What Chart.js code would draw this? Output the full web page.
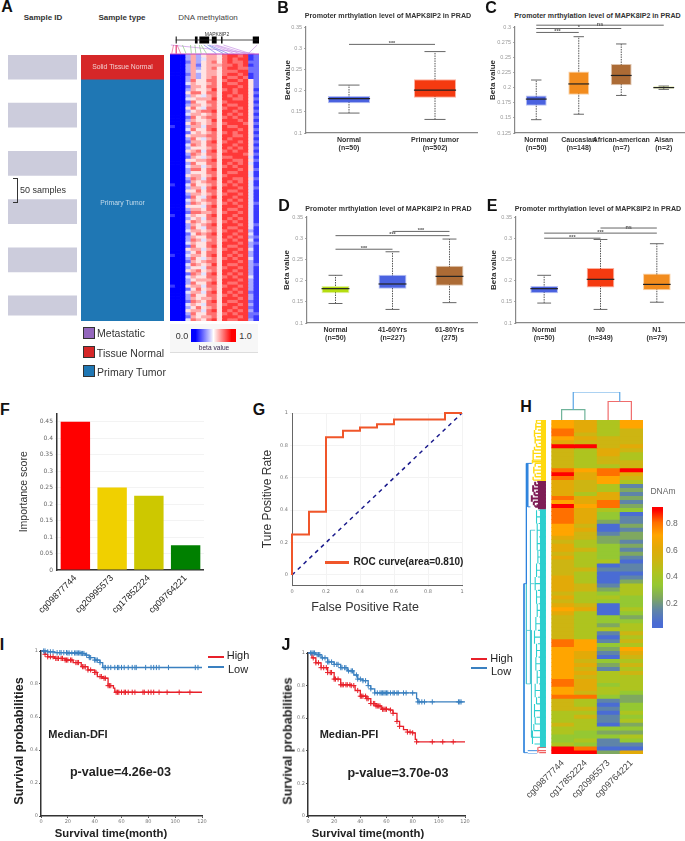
<!DOCTYPE html>
<html>
<head>
<meta charset="utf-8">
<title>MAPK8IP2 methylation</title>
<script src="https://cdn.jsdelivr.net/npm/chart.js@4"></script>
<style>
html,body{margin:0;padding:0;background:#fff;width:685px;height:841px;overflow:hidden}
canvas{position:absolute;display:block}
.t{position:absolute;white-space:nowrap;font-family:"Liberation Sans",Arial,sans-serif;transform:translate(-50%,-50%);line-height:1}
.l{position:absolute}
</style>
</head>
<body>
<script>
/* ---------- Panel A ---------- */
const sampleIdBlocks = [[0,50],[100,150],[200,250],[300,350],[400,450],[500,540]];
const sampleTypeSpans = [[0,50],[50,552]];
const sampleTypeColors = ['#d62728','#1f77b4'];
const probeNames = ['p1','p2','p3','p4','p5','p6','p7','p8','p9','p10','p11','p12','p13','p14','p15','p16','p17'];
/* beta value of each probe, one row per group of samples, digits 0..9 = beta 0..1 */
const methylRows = [
'000 3635 665 78878 12','000 3634 665 78788 12','000 2635 675 78778 22','000 3625 666 77878 12','000 3635 675 78877 22','000 3645 665 77788 22','000 2635 665 78878 12','000 3635 675 87787 12',
'000 3755 775 78878 52','000 4655 675 87788 52','000 2665 775 88878 52','000 3655 685 78788 51','000 5775 775 88788 52','000 3654 675 87878 51',
'000 4566 685 88778 52','000 2755 775 78888 51','000 3665 675 87788 52','000 5754 775 78878 51','000 3567 785 88788 52','000 4665 675 87878 51',
'000 2756 775 78788 52','000 3655 685 88878 51','000 5765 675 78887 52','100 3664 775 87788 51','000 4755 785 88878 52','000 2565 675 78788 51',
'000 5666 775 88778 52','000 3754 675 87888 51','000 2665 785 78878 52','000 4765 775 88788 51','000 3555 675 87878 52','000 5674 785 78788 51',
'000 3765 775 88887 52','000 2654 675 77888 41','000 5566 785 88778 52','000 3755 775 87878 41','000 4664 675 78788 51','000 3775 785 88878 52',
'000 3555 775 87788 41','000 5665 675 78888 41','000 3764 785 88778 52','000 2656 775 87878 41','100 4755 675 78788 41','000 3664 785 88878 42',
'000 5575 775 87788 41','000 3665 675 78878 41','000 2754 785 88788 41','000 4656 775 87878 41','000 3765 675 78788 42','000 5554 785 88878 41',
'000 3665 775 87788 41','000 2776 675 78878 41','100 4655 785 88788 41','000 3564 775 87878 41','000 5765 675 78788 41','000 3656 785 88878 42',
'000 3754 775 87788 41','000 4665 675 78878 31','000 2576 785 88788 41','000 3655 775 87878 32','000 3764 675 78788 41','000 4655 775 88878 32',
'000 2755 785 87788 31','000 5664 675 78878 41','000 3575 775 88788 31','100 4665 785 87878 31','000 3754 675 78788 41','000 2656 775 88878 31',
'000 4765 685 87788 32','000 3554 775 78878 31','000 5675 675 88788 31','000 2764 785 87878 31','000 4655 775 78788 41','000 3566 675 88878 31',
'000 3755 785 87788 31','100 5664 775 78878 31','000 2575 675 88788 31','000 4664 785 87878 21','000 3755 775 78788 31','000 3656 675 88878 31',
'000 2765 785 87788 21','000 4654 775 78878 31','000 3575 675 88788 21','000 5664 785 87878 31','000 3755 775 78788 22','000 2656 675 88878 21',
'000 4765 785 87788 31'];
const geneBackbone = [6.4,99];
const geneExons = [[6.4,7.5],[28,31],[33,44],[47,52.4],[57.4,59],[93,100]];
const probeLinksPink = [[4,2],[7,7],[8,12]];
const probeLinksGreen = [[14,18],[23,24],[28,29],[33,35],[35,41]];
const probeLinksBlue = [[38,52],[42,60],[44,65]];
const probeLinksPurple = [[47,72],[50,78],[52,85],[60,90],[98,88],[1,95]];

/* ---------- Panels B-E box plots ---------- */
const bCategories = [['Normal','(n=50)'],['Primary tumor','(n=502)']];
const bLow=[.147,.132], bQ1=[.17,.183], bMedian=[.181,.201], bQ3=[.187,.227], bHigh=[.213,.292];
const bColors=['#4a62e0','#f53a10'];
const bSig=[[0,1,.309,'***']];

const cCategories = [['Normal','(n=50)'],['Caucasian','(n=148)'],['African-american','(n=7)'],['Aisan','(n=2)']];
const cLow=[.147,.156,.187,.197], cQ1=[.17,.188,.204,.198], cMedian=[.181,.206,.22,.2], cQ3=[.187,.2265,.239,.202], cHigh=[.2125,.284,.272,.2025];
const cColors=['#4a62e0','#f28c1e','#ac6b35','#b6cc2c'];
const cSig=[[0,1,.291,'***'],[0,2,.2975,'*'],[0,3,.303,'ns']];

const dCategories = [['Normal','(n=50)'],['41-60Yrs','(n=227)'],['61-80Yrs','(275)']];
const dLow=[.146,.132,.148], dQ1=[.17,.181,.188], dMedian=[.181,.192,.21], dQ3=[.187,.214,.235], dHigh=[.2125,.268,.298];
const dColors=['#b5dd10','#4a62e0','#ac6b35'];
const dSig=[[0,1,.274,'***'],[0,2,.306,'***'],[1,2,.316,'***']];

const eCategories = [['Normal','(n=50)'],['N0','(n=349)'],['N1','(n=79)']];
const eLow=[.147,.132,.149], eQ1=[.17,.184,.177], eMedian=[.181,.203,.191], eQ3=[.187,.23,.217], eHigh=[.2125,.297,.287];
const eColors=['#4a62e0','#f53a10','#f28c1e'];
const eSig=[[0,1,.3,'***'],[0,2,.312,'***'],[1,2,.324,'ns']];

/* ---------- Panel F ---------- */
const fProbes=['cg09877744','cg20995573','cg17852224','cg09764221'];
const fScores=[.45,.25,.225,.075];
const fColors=['#ff0000','#f0d000','#cdc800','#008000'];

/* ---------- Panel G ---------- */
const rocFpr=[0,0,.1,.1,.2,.2,.3,.3,.4,.4,.5,.5,.6,.6,.9,.9,1];
const rocTpr=[0,.25,.25,.39,.39,.85,.85,.89,.89,.91,.91,.93,.93,.96,.96,1,1];

/* ---------- Panel H ---------- */
const hProbes=['cg09877744','cg17852224','cg20995573','cg09764221'];
const hRows=['7647','7647','8645','8545','7655','6555','9956','5465','5464','5454','5455','5445','8789','9686','8675','6574',
'6541','6542','6461','8662','7681','9782','8643','8630','8631','8621','7502','7601','7512','6522','5421','6432','6531','5432','6431','5440',
'5401','5511','5400','6401','6402','6514','6524','5434','6443','5433','6503','7604','6403','5432','5433','5424','5444','5415','5404',
'8715','8734','7727','7616','7605','7534','7625','7514','7645','7544','8644','8634','7644','7543','8832',
'5412','5403','5513','4404','4513','4414','5402','4433','4322','3334','3413','4311','9800','9926'];
const hScale=[[.05,'#4a6cd4'],[.145,'#5f84a8'],[.24,'#7fa860'],[.335,'#95c832'],[.43,'#aec41f'],[.525,'#cdb512'],[.62,'#e2aa08'],[.715,'#ffa500'],[.81,'#ff7000'],[.905,'#ff0000']];
const hColorbarRange=[.013,.927];
const hColorbarTicks=[.2,.4,.6,.8];
/* top dendrogram: column position, merge height */
const hTopGreen=[[.5,0],[.5,.37],[1.5,.37],[1.5,0]];
const hTopRed=[[2.5,0],[2.5,.66],[3.5,.66],[3.5,0]];
const hTopBlue=[[1,.37],[1,1],[3,1],[3,.66]];
/* left dendrogram: [leaf position, merge depth] */
const leavesYellow=[[0,40],[1,42],[2,38],[3,44],[4,34],[5,42],[6,36],[7,46],[8,40],[9,34],[10,30],[11,38],[12,30],[12.5,28],[13,36],[14,44],[15,32],[16,40],[17,36],[18,30]];
const leavesPurple=[[18.5,42],[19.5,36],[20.5,30],[21.5,38],[22.5,34],[23.5,26],[24.5,32],[25.5,40],[26,36]];
const leavesTeal=[[27,46],[29,40],[31,46],[33,42],[35,48],[37,42],[39,46],[41,44],[43,48],[45,40],[47,44],[49,36],[51,44],[53,40],[55,46],[57,42],[59,48],[61,38],[63,44],[65,34],[67,44],[69,40],[71,46],[73,38],[75,46],[77,42],[79,48],[81,36],[83,44],[85,40],[87,34],[89,40],[91,36],[93,32],[95,28],[97,34]];
const leavesRed=[[98,46],[99,44],[99.6,48]];
const treeSkeleton=[[3,49,3,99.6],[3,49,10,49],[10,13,10,49],[10,13,14,13],[14,13,14,26],[14,13,26,13],[14,26,22,26],[3,99.6,14,99.6],[14,99,42,99],[14,100,42,100]];
const treeTealSkeleton=[[10,49,10,79],[10,63,25,63],[25,63,25,95],[10,79,22,79],[22,49,22,79],[22,49,34,49],[25,95,32,95],[22,33,22,49],[22,33,36,33]];

/* ---------- Panel I ---------- */
const iHighCurve=[[0,1],[3,.98],[5,.965],[10,.955],[18,.945],[24,.93],[30,.905],[35,.885],[40,.87],[42,.845],[46,.835],[50,.79],[54,.775],[55,.75],[120,.75]];
const iLowCurve=[[0,1],[5,.995],[10,.99],[20,.988],[30,.985],[33,.975],[36,.96],[40,.945],[44,.93],[46,.9],[120,.9]];
const iHighCensor=[3,5,7,9,11,12,13,15,16,18,19,20,22,23,26,27,28,31,32,33,35,37,40,41,44,45,47,48,50,51,52,56,57,58,60,62,63,65,68,70,76,77,80,82,84,88,94,103,111];
const iLowCensor=[2,3,5,7,9,12,14,15,17,19,20,21,23,25,26,27,28,29,30,31,32,34,36,37,40,41,42,44,47,48,50,52,55,57,58,60,62,65,68,70,71,78,82,84,86,88,95,115,117];

/* ---------- Panel J ---------- */
const jHighCurve=[[0,1],[3,.97],[6,.94],[10,.91],[15,.88],[20,.84],[25,.805],[33,.8],[36,.77],[40,.735],[45,.72],[48,.69],[52,.675],[56,.655],[63,.65],[65,.63],[68,.58],[70,.55],[73,.53],[76,.515],[80,.51],[82,.47],[83,.455],[120,.455]];
const jLowCurve=[[0,1],[6,.99],[10,.97],[15,.945],[20,.93],[25,.91],[30,.89],[35,.865],[38,.84],[42,.83],[46,.8],[48,.78],[51,.755],[82,.755],[83,.72],[84,.7],[120,.7]];
const jHighCensor=[4,6,8,10,12,14,15,17,18,20,21,23,25,26,27,29,30,32,33,35,38,40,41,42,44,45,46,48,50,51,52,53,54,55,57,58,59,60,63,65,68,70,76,78,80,83,95,103,111];
const jLowCensor=[2,3,4,5,7,8,9,11,13,15,16,18,20,22,23,25,26,28,29,31,33,34,37,38,40,42,44,46,48,51,53,55,56,57,58,59,60,61,63,65,66,68,69,73,75,80,84,85,87,89,95,115,116,117];

/* ---------- helpers ---------- */
const SANS='"Liberation Sans",Arial,sans-serif';
Chart.defaults.font.family=SANS;
Chart.defaults.animation=false;
Chart.defaults.responsive=false;
Chart.defaults.devicePixelRatio=1;
Chart.defaults.plugins.legend.display=false;
Chart.defaults.plugins.tooltip.enabled=false;

function text(s,x,y,size,o){
  o=o||{};
  const d=document.createElement('div');d.className='t';d.textContent=s;
  d.style.left=x+'px';d.style.top=y+'px';d.style.fontSize=size+'px';
  d.style.color=o.color||'#222';d.style.fontWeight=o.bold?'bold':'normal';
  if(o.rotate)d.style.transform=`translate(-50%,-50%) rotate(${o.rotate}deg)`;
  document.body.appendChild(d);
}
function rect(x,y,w,h,css){
  const d=document.createElement('div');d.className='l';
  d.style.cssText+=`left:${x}px;top:${y}px;width:${w}px;height:${h}px;`+css;
  document.body.appendChild(d);
}
/* plot area x0..x1 / y0..y1 in page pixels; margins reserve room for axes */
function chartAt(x0,y0,x1,y1,m,config){
  const left=m.left||0,right=m.right||0,top=m.top||0,bottom=m.bottom||0,axisRight=m.axisRight||0;
  const c=document.createElement('canvas');
  c.width=x1-x0+left+right+axisRight;c.height=y1-y0+top+bottom;
  c.style.left=(x0-left)+'px';c.style.top=(y0-top)+'px';
  document.body.appendChild(c);
  const o=config.options=config.options||{};
  o.layout={autoPadding:false,padding:{top:top,right:right,left:0,bottom:0}};
  o.scales=o.scales||{};
  if(o.scales.x&&o.scales.x.display!==false)o.scales.x.afterFit=s=>{s.height=bottom;};
  if(o.scales.y&&o.scales.y.display!==false)o.scales.y.afterFit=s=>{s.width=axisRight||left;};
  return new Chart(c.getContext('2d'),config);
}
const hidden={display:false};
const plainTick=v=>String(+(+v).toFixed(3));
function segs(list){const out=[];list.forEach(a=>{out.push({x:a[0],y:a[1]},{x:a[2],y:a[3]},{x:NaN,y:NaN});});return out;}
function lineSet(data,color,width,extra){return Object.assign({type:'line',data:data,borderColor:color,borderWidth:width,pointRadius:0,fill:false,clip:false,tension:0,order:1},extra||{});}

/* ---------- box plot built from bars, lines and line-shaped points ---------- */
function boxPlot(x0,y0,x1,y1,left,cats,low,q1,med,q3,high,colors,sig,yMin,yMax,step){
  const boxFrac=.49, band=(x1-x0)/cats.length, boxW=band*boxFrac;
  const ds=[];
  cats.forEach((c,i)=>{
    ds.push({type:'line',data:[{x:c,y:med[i]}],showLine:false,pointStyle:'line',pointRadius:boxW/2,pointBorderWidth:1.2,pointBorderColor:'#222',clip:false,order:1});
    ds.push({type:'line',data:[{x:c,y:low[i]},{x:c,y:high[i]}],showLine:false,pointStyle:'line',pointRadius:boxW/4,pointBorderWidth:1,pointBorderColor:'#666',clip:false,order:4});
    ds.push(lineSet([{x:c,y:low[i]},{x:c,y:high[i]}],'#555',1,{borderDash:[1.5,1],order:4}));
  });
  ds.push({type:'bar',data:cats.map((c,i)=>[q1[i],q3[i]]),backgroundColor:colors,borderColor:colors.map(k=>k+'66'),borderWidth:1,borderSkipped:false,barPercentage:boxFrac,categoryPercentage:1,order:2});
  sig.forEach(s=>{ds.push(lineSet([{x:cats[s[0]],y:s[2]},{x:cats[s[1]],y:s[2]}],'#666',1,{order:3}));});
  const sigLabels={id:'sigLabels',afterDatasetsDraw(ch){
    const g=ch.ctx;g.save();g.font='bold 5.5px '+SANS;g.fillStyle='#555';g.textAlign='center';g.textBaseline='middle';
    sig.forEach(s=>{const xa=ch.scales.x.getPixelForTick(s[0]),xb=ch.scales.x.getPixelForTick(s[1]);g.fillText(s[3],(xa+xb)/2,ch.scales.y.getPixelForValue(s[2])-1);});
    g.restore();}};
  chartAt(x0,y0,x1,y1,{left:left,bottom:28,top:9,right:0},{type:'bar',plugins:[sigLabels],data:{labels:cats,datasets:ds},options:{scales:{
    x:{grid:{display:false,drawTicks:false,tickLength:0},border:{color:'#888',width:1.2},ticks:{color:'#333',font:{size:7,weight:'bold',lineHeight:1.15},padding:3,maxRotation:0,minRotation:0,autoSkip:false}},
    y:{min:yMin,max:yMax,grid:{drawOnChartArea:false,tickLength:2,color:'#aaa'},border:{color:'#888',width:1.2},ticks:{stepSize:step,color:'#999',font:{size:5.5},padding:2,callback:plainTick},
       title:{display:true,text:'Beta value',color:'#333',font:{size:8,weight:'bold'},padding:0}}
  }}});
}

/* ---------- heat map from floating bars ---------- */
function heatData(cats,rows,colorFn){
  return rows.map((r,i)=>{const v=r.replace(/ /g,'').split('').map(Number);
    return {data:cats.map(()=>[i,i+1.03]),backgroundColor:v.map(colorFn),grouped:false,barPercentage:1,categoryPercentage:1,borderWidth:0};});
}
const hex=h=>[1,3,5].map(i=>parseInt(h.substr(i,2),16));
function hScaleColor(v){
  if(v<=hScale[0][0])return hScale[0][1];
  for(let i=1;i<hScale.length;i++){if(v<=hScale[i][0]){
    const a=hScale[i-1],b=hScale[i],t=(v-a[0])/(b[0]-a[0]),p=hex(a[1]),q=hex(b[1]);
    return `rgb(${p.map((k,j)=>Math.round(k+(q[j]-k)*t)).join(',')})`;}}
  return hScale[hScale.length-1][1];
}
function betaColor(v){
  if(v<.5){const k=Math.round(510*v);return `rgb(${k},${k},255)`;}
  const k=Math.round(510*(1-v));return `rgb(255,${k},${k})`;
}

/* ---------- Panel A ---------- */
text('A',7,7,16,{bold:true,color:'#111'});
text('Sample ID',43,18,8,{bold:true,color:'#333'});
text('Sample type',122,18,8,{bold:true,color:'#333'});
text('DNA methylation',208,17.5,8,{color:'#444'});
chartAt(8,55,77,321,{},{type:'bar',data:{labels:['Sample ID'],datasets:sampleIdBlocks.map(b=>({data:[b],backgroundColor:'#ccccdc',grouped:false,barPercentage:1,categoryPercentage:1}))},
  options:{scales:{x:hidden,y:{display:false,min:0,max:552,reverse:true}}}});
chartAt(81,55,164,321,{},{type:'bar',data:{labels:['Sample type'],datasets:sampleTypeSpans.map((b,i)=>({data:[b],backgroundColor:sampleTypeColors[i],grouped:false,barPercentage:1,categoryPercentage:1}))},
  options:{scales:{x:hidden,y:{display:false,min:0,max:552,reverse:true}}}});
text('Solid Tissue Normal',122.5,66.5,6.8,{color:'#f2d0d0'});
text('Primary Tumor',122.5,203,6.8,{color:'#c5dcec'});
rect(13,178,4,23,'border:1px solid #333;border-left:none;');
text('50 samples',43,190,9,{color:'#333'});
chartAt(170,54,259,321,{},{type:'bar',data:{labels:probeNames,datasets:heatData(probeNames,methylRows,d=>betaColor(d/9))},
  options:{scales:{x:{display:false},y:{display:false,min:0,max:methylRows.length,reverse:true}}}});
/* gene track above the heat map */
chartAt(170,28,259,55,{},{type:'scatter',data:{datasets:[
  lineSet(segs([[geneBackbone[0],15,geneBackbone[1],15]]),'#222',.8),
  lineSet(segs(geneExons.map(e=>[e[0],15,e[1],15])),'#000',7),
  lineSet(segs(probeLinksPink.map(l=>[l[0],10,l[1],1.5])),'#e0407a',.6),
  lineSet(segs(probeLinksGreen.map(l=>[l[0],10,l[1],1.5])),'#7ac070',.6),
  lineSet(segs(probeLinksBlue.map(l=>[l[0],10,l[1],1.5])),'#6070e0',.6),
  lineSet(segs(probeLinksPurple.map(l=>[l[0],10,l[1],1.5])),'#c080e0',.6),
  lineSet(segs([[0,1,100,1]]),'#c040c0',1)
]},options:{scales:{x:{display:false,min:0,max:100},y:{display:false,min:0,max:27}}}});
text('MAPK8IP2',217,33.5,5,{color:'#333'});
/* legend */
[['#9467bd',327,'Metastatic',121,333],['#d62728',346,'Tissue Normal',130.5,352.5],['#1f77b4',365,'Primary Tumor',131.5,372]].forEach(r=>{
  rect(83,r[1],10,10,`background:${r[0]};border:1px solid #333;`);
  text(r[2],r[3],r[4],10.5,{color:'#333'});
});
rect(170,324,88,29,'background:#f7f7f7;border-bottom:1px solid #ddd;box-sizing:border-box;');
chartAt(191,329,236,342,{},{type:'bar',data:{labels:['beta'],datasets:[{data:[[0,1]],barPercentage:1,categoryPercentage:1,backgroundColor(ctx){
  const a=ctx.chart.chartArea;if(!a)return '#fff';
  const g=ctx.chart.ctx.createLinearGradient(a.left,0,a.right,0);g.addColorStop(0,'#0000ff');g.addColorStop(.1,'#0000ff');g.addColorStop(.5,'#ffffff');g.addColorStop(.9,'#ff0000');g.addColorStop(1,'#ff0000');return g;}}]},
  options:{indexAxis:'y',scales:{x:{display:false,min:0,max:1},y:hidden}}});
text('0.0',182,335.5,9,{color:'#333'});
text('1.0',245.5,335.5,9,{color:'#333'});
text('beta value',214,348,6.6,{color:'#3a2a50'});

/* ---------- Panels B-E ---------- */
const boxTitle='Promoter mrthylation level of MAPK8IP2 in PRAD';
text('B',283,8,16,{bold:true,color:'#111'});
text(boxTitle,388,16.5,7.1,{bold:true,color:'#333'});
boxPlot(306,27,478,133,23,bCategories,bLow,bQ1,bMedian,bQ3,bHigh,bColors,bSig,.1,.35,.05);
text('C',491,8,16,{bold:true,color:'#111'});
text(boxTitle,597.5,16.5,7.1,{bold:true,color:'#333'});
boxPlot(515,27,685,133,27,cCategories,cLow,cQ1,cMedian,cQ3,cHigh,cColors,cSig,.125,.3,.025);
text('D',284,206,16,{bold:true,color:'#111'});
text(boxTitle,388.5,210,7.1,{bold:true,color:'#333'});
boxPlot(307,217,478,323,25,dCategories,dLow,dQ1,dMedian,dQ3,dHigh,dColors,dSig,.1,.35,.05);
text('E',492,206,16,{bold:true,color:'#111'});
text(boxTitle,598,210,7.1,{bold:true,color:'#333'});
boxPlot(516,217,685,323,27,eCategories,eLow,eQ1,eMedian,eQ3,eHigh,eColors,eSig,.1,.35,.05);

/* ---------- Panel F ---------- */
text('F',5,410,16,{bold:true,color:'#111'});
chartAt(57,413,204,570,{left:39,bottom:55,top:5},{type:'bar',data:{labels:fProbes,datasets:[{data:fScores,backgroundColor:fColors,barPercentage:.8,categoryPercentage:1}]},
  options:{scales:{
    x:{grid:{display:false,drawTicks:true,tickLength:3},border:{color:'#333',width:1.5},ticks:{color:'#222',font:{size:9},maxRotation:45,minRotation:45,padding:0,autoSkip:false}},
    y:{min:0,max:.4745,grid:{color:'#f3f3f3',tickLength:2},border:{color:'#333',width:1.5},ticks:{stepSize:.05,includeBounds:false,color:'#666',font:{size:6,family:'"DejaVu Sans"'},padding:2,callback:plainTick},
       title:{display:true,text:'Importance score',color:'#333',font:{size:10.5},padding:0}}
  }}});

/* ---------- Panel G ---------- */
text('G',259,410,16,{bold:true,color:'#111'});
chartAt(292,413,462,585,{left:32,bottom:28,top:6,right:8},{type:'scatter',data:{datasets:[
  lineSet(rocFpr.map((x,i)=>({x:x,y:rocTpr[i]})),'#f0562a',2,{order:1}),
  lineSet([{x:0,y:0},{x:1,y:1}],'#1a1a8c',1.5,{borderDash:[4,4],order:2})
]},options:{scales:{
  x:{min:0,max:1,grid:{color:'#f3f3f3',tickLength:2},border:{color:'#666',width:1},ticks:{stepSize:.2,color:'#777',font:{size:5,family:'"DejaVu Sans"'},padding:2,callback:plainTick}},
  y:{min:-.062,max:1,grid:{color:'#f3f3f3',tickLength:2},border:{color:'#666',width:1},ticks:{stepSize:.2,includeBounds:false,color:'#777',font:{size:5,family:'"DejaVu Sans"'},padding:2,callback:plainTick},
     title:{display:true,text:'Ture Positive Rate',color:'#333',font:{size:12},padding:0}}
}}});
rect(325,561,24,3,'background:#f0562a;');
text('ROC curve(area=0.810)',408.5,562,10,{bold:true,color:'#222'});
text('False Positive Rate',365,607,12.5,{color:'#333'});

/* ---------- Panel H ---------- */
text('H',526,407,16,{bold:true,color:'#111'});
chartAt(550,420,643,754,{bottom:45,top:0,left:30,right:10},{type:'bar',data:{labels:hProbes,datasets:heatData(hProbes,hRows,d=>hScaleColor(.05+d*.095))},
  options:{scales:{
    x:{grid:{display:false,drawTicks:false,tickLength:0},border:{display:false},ticks:{color:'#444',font:{size:9},maxRotation:45,minRotation:45,padding:4,autoSkip:false}},
    y:{min:0,max:hRows.length,reverse:true,grid:{display:false,drawTicks:false},border:{display:false},ticks:{display:false}}
  }}});
chartAt(550,392,643,420,{},{type:'scatter',data:{datasets:[
  lineSet(hTopBlue.map(p=>({x:p[0],y:p[1]})),'#5aa5e6',1.2),
  lineSet(hTopGreen.map(p=>({x:p[0],y:p[1]})),'#6fb39a',1.2),
  lineSet(hTopRed.map(p=>({x:p[0],y:p[1]})),'#f06c6c',1.2)
]},options:{scales:{x:{display:false,min:0,max:4},y:{display:false,min:0,max:1}}}});
function tree(leaves){
  const out=[];let prev=null;
  leaves.forEach(l=>{out.push({x:l[1],y:l[0]},{x:68,y:l[0]},{x:NaN,y:NaN});
    if(prev){const d=Math.min(prev[1],l[1]);out.push({x:d,y:prev[0]},{x:d,y:l[0]},{x:NaN,y:NaN});}
    prev=l;});
  return out;
}
chartAt(523,420,546,754,{},{type:'scatter',data:{datasets:[
  lineSet(tree(leavesYellow),'#ffd90f',1.4),
  lineSet(segs([[61,0,61,18.3]]),'#ffd90f',5.5),
  lineSet(tree(leavesPurple),'#7e1c55',2),
  lineSet(segs([[56,18.3,56,26.7]]),'#7e1c55',8),
  lineSet(tree(leavesTeal),'#2ccfcf',1.1),
  lineSet(segs([[59,26.7,59,98]]),'#2ccfcf',6),
  lineSet(tree(leavesRed),'#f06060',1.2),
  lineSet(segs(treeSkeleton),'#2b82dc',.9),
  lineSet(segs(treeTealSkeleton),'#45c4cf',.8)
]},options:{scales:{x:{display:false,min:0,max:68},y:{display:false,min:0,max:100,reverse:true}}}});
text('DNAm',663,491,8.5,{color:'#666'});
chartAt(652,499,663,636,{axisRight:20},{type:'bar',data:{labels:['DNAm'],datasets:[{data:[hColorbarRange],barPercentage:1,categoryPercentage:1,borderWidth:0,backgroundColor(ctx){
    const a=ctx.chart.chartArea;if(!a)return '#fff';
    const g=ctx.chart.ctx.createLinearGradient(0,a.bottom,0,a.top),lo=hColorbarRange[0],hi=hColorbarRange[1];
    hScale.forEach(s=>g.addColorStop(Math.min(1,Math.max(0,(s[0]-lo)/(hi-lo))),s[1]));return g;}}]},
  options:{scales:{x:hidden,y:{position:'right',min:hColorbarRange[0],max:hColorbarRange[1],afterBuildTicks(s){s.ticks=hColorbarTicks.map(v=>({value:v}));},
    grid:{display:false,drawTicks:false},border:{display:false},ticks:{color:'#666',font:{size:8.5},padding:3,callback:v=>String(v)}}}}});

/* ---------- Panels I, J ---------- */
function curveY(curve,x){let y=curve[0][1];for(const p of curve){if(p[0]<=x)y=p[1];}return y;}
function survival(x0,y0,x1,y1,left,high,low,highCensor,lowCensor){
  const mk=(curve,color,cens)=>[
    lineSet(curve.map(p=>({x:p[0],y:p[1]})),color,1.3,{stepped:true}),
    {type:'scatter',data:cens.map(x=>({x:x,y:curveY(curve,x)})),pointStyle:'cross',pointRadius:2.6,pointBorderWidth:1,pointBorderColor:color,clip:false,order:1}
  ];
  chartAt(x0,y0,x1,y1,{left:left,bottom:24,top:5,right:8},{type:'scatter',data:{datasets:[...mk(low,'#3a80c0',lowCensor),...mk(high,'#e8202a',highCensor)]},
    options:{scales:{
      x:{min:0,max:120,grid:{drawOnChartArea:false,tickLength:2,color:'#555'},border:{color:'#333',width:1.5},ticks:{stepSize:20,color:'#777',font:{size:5,family:'"DejaVu Sans"'},padding:1,callback:plainTick}},
      y:{min:0,max:1,grid:{drawOnChartArea:false,tickLength:2,color:'#555'},border:{color:'#333',width:1.5},ticks:{stepSize:.2,color:'#777',font:{size:5,family:'"DejaVu Sans"'},padding:1,callback:plainTick}}
    }}});
}
text('I',2,645,16,{bold:true,color:'#111'});
survival(41,651,202,816,29,iHighCurve,iLowCurve,iHighCensor,iLowCensor);
text('Survival probabilities',19,741,12.6,{bold:true,color:'#222',rotate:-90});
text('Survival time(month)',111,834,11.3,{bold:true,color:'#222'});
text('Median-DFI',78,733.5,11,{bold:true,color:'#222'});
text('p-value=4.26e-03',120.5,771.5,12.6,{bold:true,color:'#222'});
rect(208,656,16,2,'background:#e8202a;');rect(208,666,16,2,'background:#3a80c0;');
text('High',238,655,11,{color:'#222'});text('Low',238,669,11,{color:'#222'});

text('J',286,645,16,{bold:true,color:'#111'});
survival(308,653,465,816,27,jHighCurve,jLowCurve,jHighCensor,jLowCensor);
text('Survival probabilities',288,741,12.6,{bold:true,color:'#222',rotate:-90});
text('Survival time(month)',368,834,11.3,{bold:true,color:'#222'});
text('Median-PFI',349,733.5,11,{bold:true,color:'#222'});
text('p-value=3.70e-03',398,772.5,12.6,{bold:true,color:'#222'});
rect(471,658,16,2,'background:#e8202a;');rect(471,667,16,2,'background:#3a80c0;');
text('High',501.5,658,11,{color:'#222'});text('Low',501,671,11,{color:'#222'});
</script>
</body>
</html>
